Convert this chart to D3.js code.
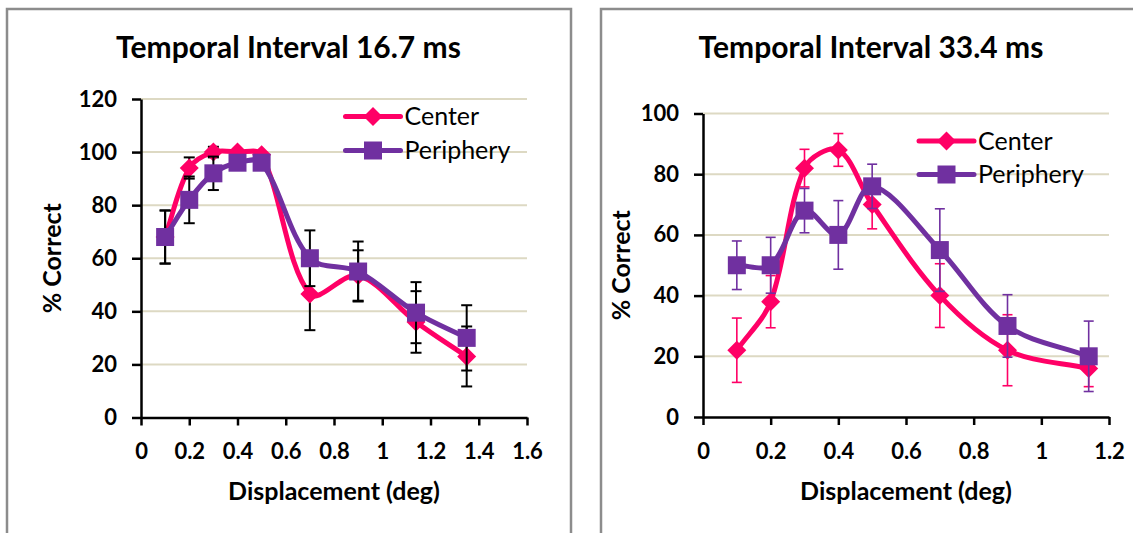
<!DOCTYPE html>
<html>
<head>
<meta charset="utf-8">
<script src="https://cdn.jsdelivr.net/npm/d3@7"></script>
<style>
  body { margin: 0; background: #fff; }
  svg { display: block; }
</style>
</head>
<body>
<svg id="chart" width="1133" height="533"></svg>
<script>
// Temporal interval 16.7 ms
const dispA = [0.1, 0.2, 0.3, 0.4, 0.5, 0.7, 0.9, 1.14, 1.35];
const centerA = [68, 94, 100, 100, 99, 46.5, 53.5, 36, 23];
const centerErrA = [10, 4, 2, 1, 1, 13.6, 9.5, 11.6, 11.3];
const peripheryA = [68, 82, 92, 96, 96, 60, 55, 39.5, 30];
const peripheryErrA = [10, 8.8, 6.3, 2, 2, 10.5, 11.3, 11.5, 12.3];
const xTicksA = [0, 0.2, 0.4, 0.6, 0.8, 1, 1.2, 1.4, 1.6];
const yTicksA = [0, 20, 40, 60, 80, 100, 120];

// Temporal interval 33.4 ms
const dispB = [0.1, 0.2, 0.3, 0.4, 0.5, 0.7, 0.9, 1.14];
const centerB = [22, 38, 82, 88, 70, 40, 22, 16];
const centerErrB = [10.6, 8.6, 6.2, 5.4, 8, 10.5, 11.7, 6];
const peripheryB = [50, 50, 68, 60, 76, 55, 30, 20];
const peripheryErrB = [8, 9.2, 7.3, 11.3, 7.3, 13.6, 10.3, 11.6];
const xTicksB = [0, 0.2, 0.4, 0.6, 0.8, 1, 1.2];
const yTicksB = [0, 20, 40, 60, 80, 100];

const titles = ["Temporal Interval 16.7 ms", "Temporal Interval 33.4 ms"];
const seriesNames = ["Center", "Periphery"];
const xTitle = "Displacement (deg)";
const yTitle = "% Correct";

const FONT = "Lato, 'Open Sans', sans-serif";
const PINK = "#ff0066";
const PURPLE = "#7030a0";
const GRID = "#ddd9c3";

const svg = d3.select("#chart");
svg.append("rect").attr("width", 1133).attr("height", 533).attr("fill", "#fff");

const panels = [
  {
    title: titles[0], xs: dispA, xTicks: xTicksA, yTicks: yTicksA,
    series: [
      { name: seriesNames[0], y: centerA, err: centerErrA, color: PINK, marker: "diamond" },
      { name: seriesNames[1], y: peripheryA, err: peripheryErrA, color: PURPLE, marker: "square" }
    ],
    frame: { x: 7, y: 9, w: 564, h: 540 },
    px: [141, 527], py: [417.5, 99],
    titleX: 288.5, yTitleX: 61,
    legend: { x: 345.5, y: 116.5, gap: 34 },
    errColor: "#000", errWidth: 2, errCap: 11
  },
  {
    title: titles[1], xs: dispB, xTicks: xTicksB, yTicks: yTicksB,
    series: [
      { name: seriesNames[0], y: centerB, err: centerErrB, color: PINK, marker: "diamond" },
      { name: seriesNames[1], y: peripheryB, err: peripheryErrB, color: PURPLE, marker: "square" }
    ],
    frame: { x: 601, y: 9, w: 600, h: 540 },
    px: [703, 1109], py: [417, 113.5],
    titleX: 871, yTitleX: 630,
    legend: { x: 919, y: 141, gap: 33.5 },
    errColor: null, errWidth: 1.6, errCap: 10
  }
];

// Smoothed Bezier path: tangents from neighbouring points, scaled by chord lengths
function smoothPath(pts) {
  const n = pts.length;
  const dist = (a, b) => Math.hypot(b[0] - a[0], b[1] - a[1]);
  const ctrl = (i, dir) => {
    const prev = pts[Math.max(i - 1, 0)], next = pts[Math.min(i + 1, n - 1)];
    const dPrev = dist(prev, pts[i]), dNext = dist(pts[i], next);
    const tot = dPrev + dNext;
    const k = tot ? (dir > 0 ? dNext : dPrev) / tot / 3 : 0;
    return [pts[i][0] + dir * k * (next[0] - prev[0]), pts[i][1] + dir * k * (next[1] - prev[1])];
  };
  const p = d3.path();
  p.moveTo(pts[0][0], pts[0][1]);
  for (let i = 0; i < n - 1; i++) {
    const c1 = ctrl(i, 1), c2 = ctrl(i + 1, -1);
    p.bezierCurveTo(c1[0], c1[1], c2[0], c2[1], pts[i + 1][0], pts[i + 1][1]);
  }
  return p.toString();
}

function drawMarker(g, type, color, cx, cy) {
  if (type === "diamond") {
    const r = 9.5;
    g.append("path")
      .attr("d", `M${cx},${cy - r}L${cx + r},${cy}L${cx},${cy + r}L${cx - r},${cy}Z`)
      .attr("fill", color);
  } else {
    const s = 18;
    g.append("rect")
      .attr("x", cx - s / 2).attr("y", cy - s / 2)
      .attr("width", s).attr("height", s)
      .attr("fill", color);
  }
}

function drawPanel(p) {
  const g = svg.append("g");

  // chart frame
  g.append("rect")
    .attr("x", p.frame.x).attr("y", p.frame.y)
    .attr("width", p.frame.w).attr("height", p.frame.h)
    .attr("fill", "#fff").attr("stroke", "#8c8c8c").attr("stroke-width", 2.5);

  const x = d3.scaleLinear().domain([p.xTicks[0], p.xTicks[p.xTicks.length - 1]]).range(p.px);
  const y = d3.scaleLinear().domain([p.yTicks[0], p.yTicks[p.yTicks.length - 1]]).range(p.py);

  // horizontal gridlines
  g.append("g").selectAll("line").data(p.yTicks.slice(1)).join("line")
    .attr("x1", p.px[0]).attr("x2", p.px[1])
    .attr("y1", d => y(d)).attr("y2", d => y(d))
    .attr("stroke", GRID).attr("stroke-width", 2);

  // axes
  const fmt = d => String(d);
  const xAxis = g.append("g").attr("transform", `translate(0,${p.py[0]})`)
    .call(d3.axisBottom(x).tickValues(p.xTicks).tickFormat(fmt).tickSize(8).tickSizeOuter(0).tickPadding(18));
  const yAxis = g.append("g").attr("transform", `translate(${p.px[0]},0)`)
    .call(d3.axisLeft(y).tickValues(p.yTicks).tickFormat(fmt).tickSize(9).tickSizeOuter(0).tickPadding(15));
  [xAxis, yAxis].forEach(a => {
    a.select(".domain").attr("stroke", "#000").attr("stroke-width", 2.5);
    a.selectAll(".tick line").attr("stroke", "#000").attr("stroke-width", 2.5);
    a.selectAll(".tick text")
      .attr("fill", "#000")
      .style("font-family", FONT).style("font-weight", "bold").style("font-size", "22px");
  });

  // series: smoothed line, error bars, then markers
  p.series.forEach(s => {
    const pts = p.xs.map((d, i) => [x(d), y(s.y[i])]);
    g.append("path").attr("d", smoothPath(pts))
      .attr("fill", "none").attr("stroke", s.color)
      .attr("stroke-width", 5).attr("stroke-linejoin", "round").attr("stroke-linecap", "round");

    const ec = p.errColor || s.color;
    const eg = g.append("g").attr("stroke", ec).attr("stroke-width", p.errWidth);
    p.xs.forEach((d, i) => {
      const cx = x(d), top = y(s.y[i] + s.err[i]), bot = y(s.y[i] - s.err[i]);
      eg.append("line").attr("x1", cx).attr("x2", cx).attr("y1", top).attr("y2", bot);
      eg.append("line").attr("x1", cx - p.errCap / 2).attr("x2", cx + p.errCap / 2).attr("y1", top).attr("y2", top);
      eg.append("line").attr("x1", cx - p.errCap / 2).attr("x2", cx + p.errCap / 2).attr("y1", bot).attr("y2", bot);
    });

    p.xs.forEach((d, i) => drawMarker(g, s.marker, s.color, x(d), y(s.y[i])));
  });

  // legend
  p.series.forEach((s, i) => {
    const ly = p.legend.y + i * p.legend.gap;
    const lg = g.append("g");
    lg.append("line")
      .attr("x1", p.legend.x).attr("x2", p.legend.x + 55)
      .attr("y1", ly).attr("y2", ly)
      .attr("stroke", s.color).attr("stroke-width", 5).attr("stroke-linecap", "round");
    drawMarker(lg, s.marker, s.color, p.legend.x + 27.5, ly);
    lg.append("text")
      .attr("x", p.legend.x + 59).attr("y", ly).attr("dy", "0.35em")
      .style("font-family", FONT).style("font-size", "25px").attr("fill", "#000")
      .text(s.name);
  });

  // titles
  g.append("text")
    .attr("x", p.titleX).attr("y", 58).attr("text-anchor", "middle")
    .style("font-family", FONT).style("font-weight", "bold").style("font-size", "30px")
    .text(p.title);
  g.append("text")
    .attr("x", (p.px[0] + p.px[1]) / 2).attr("y", 500).attr("text-anchor", "middle")
    .style("font-family", FONT).style("font-weight", "bold").style("font-size", "25px")
    .text(xTitle);
  g.append("text")
    .attr("transform", `translate(${p.yTitleX},${(p.py[0] + p.py[1]) / 2}) rotate(-90)`)
    .attr("text-anchor", "middle")
    .style("font-family", FONT).style("font-weight", "bold").style("font-size", "25px")
    .text(yTitle);
}

panels.forEach(drawPanel);
</script>
</body>
</html>
